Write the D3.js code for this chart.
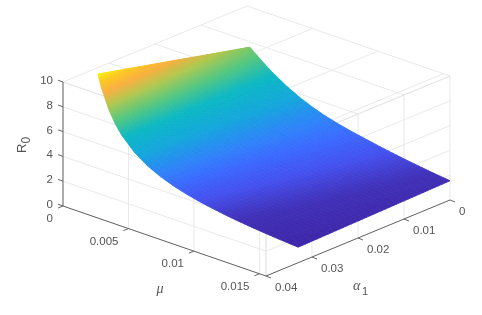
<!DOCTYPE html>
<html>
<head>
<meta charset="utf-8">
<script src="https://cdn.jsdelivr.net/npm/d3@7"></script>
<style>
  html, body { margin: 0; padding: 0; background: #fff; }
  svg { display: block; }
  text { font-family: "Liberation Sans", Arial, sans-serif; fill: #555; }
</style>
</head>
<body>
<div id="chart"></div>
<script>
const svgWidth = 482;
const svgHeight = 315;

// ticks
const muTicks = [0, 0.005, 0.01, 0.015];
const muTickLabels = ["0", "0.005", "0.01", "0.015"];
const alphaTicks = [0, 0.01, 0.02, 0.03, 0.04];
const alphaTickLabels = ["0", "0.01", "0.02", "0.03", "0.04"];
const zTicks = [0, 2, 4, 6, 8, 10];

// values
const muValues = [0.0002, 0.00035, 0.0005, 0.001, 0.0015, 0.002, 0.003, 0.004, 0.005, 0.006,
    0.007, 0.008, 0.009, 0.01, 0.011, 0.012, 0.013, 0.014, 0.0155];
const alphaValues = [0, 0.0165, 0.033];
const r0AtAlpha0 = [6.75, 6.63, 6.5, 6.1, 5.68, 5.3, 4.65, 4.1, 3.66, 3.3, 3.02, 2.78, 2.58, 2.38, 2.2, 2.03, 1.88, 1.74, 1.55];
const r0AtAlphaMid = [8.2, 7.87, 7.53, 6.64, 5.92, 5.36, 4.5, 3.86, 3.38, 3.01, 2.72, 2.48, 2.28, 2.1, 1.94, 1.8, 1.67, 1.56, 1.4];
const r0AtAlphaMax = [9.65, 9.1, 8.56, 7.17, 6.16, 5.41, 4.34, 3.62, 3.11, 2.72, 2.42, 2.18, 1.99, 1.82, 1.68, 1.56, 1.46, 1.37, 1.25];
const r0Columns = [r0AtAlpha0, r0AtAlphaMid, r0AtAlphaMax];

// colours at these R0 levels
const colorLevels = [1.25, 1.7, 2.2, 2.7, 3.2, 4.1, 5.2, 6.3, 7.3, 8.2, 9, 9.65];
const colorStops = ["#3e26a8", "#4030b8", "#4450ee", "#3b68ff", "#2f82fa", "#14a6dc", "#0cb8c4",
    "#58c87c", "#b0c850", "#f8b040", "#fcc824", "#f6f410"];

const muMax = 0.0155;
const muDomain = [0, muMax];
const alphaDomain = [0.04, 0];
const zDomain = [0, 10];

// oblique projection, each data axis moves the point along its own screen direction
const muX = d3.scaleLinear().domain(muDomain).range([0, 203]);
const muY = d3.scaleLinear().domain(muDomain).range([0, 70]);
const alphaX = d3.scaleLinear().domain(alphaDomain).range([0, 184]);
const alphaY = d3.scaleLinear().domain(alphaDomain).range([0, -76]);
const zY = d3.scaleLinear().domain(zDomain).range([0, -124]);

const originX = 63, originY = 206;

function project(mu, alpha, z) {
    return [
        originX + muX(mu) + alphaX(alpha),
        originY + muY(mu) + alphaY(alpha) + zY(z)
    ];
}

const colorScale = d3.scaleLinear()
    .domain(colorLevels)
    .range(colorStops)
    .interpolate(d3.interpolateRgb);

const svg = d3.select("#chart")
    .append("svg")
    .attr("width", svgWidth)
    .attr("height", svgHeight);

// the reference is a soft raster, so everything gets a very slight blur
svg.append("defs")
    .append("filter")
    .attr("id", "soft")
    .attr("x", 0).attr("y", 0).attr("width", 1).attr("height", 1)
    .append("feGaussianBlur")
    .attr("stdDeviation", 0.45);

const root = svg.append("g").attr("filter", "url(#soft)");

root.append("rect")
    .attr("width", svgWidth)
    .attr("height", svgHeight)
    .attr("fill", "#fff");

// Grid
const gridLines = [];
const zMax = zDomain[1];
const alpha0 = alphaDomain[0], alpha1 = alphaDomain[1];

muTicks.concat([muMax]).forEach(m => {
    gridLines.push([[m, alpha0, zMax], [m, alpha1, zMax]]);
    gridLines.push([[m, alpha0, 0], [m, alpha0, zMax]]);
});
alphaTicks.forEach(a => {
    gridLines.push([[0, a, zMax], [muMax, a, zMax]]);
    gridLines.push([[muMax, a, 0], [muMax, a, zMax]]);
});
zTicks.forEach(z => {
    gridLines.push([[0, alpha0, z], [muMax, alpha0, z]]);
    gridLines.push([[muMax, alpha0, z], [muMax, alpha1, z]]);
});

const line3d = d3.line().x(d => d[0]).y(d => d[1]);

root.append("g")
    .selectAll("path")
    .data(gridLines)
    .join("path")
    .attr("d", d => line3d(d.map(p => project(p[0], p[1], p[2]))))
    .attr("fill", "none")
    .attr("stroke", "#e3e3e3")
    .attr("stroke-width", 0.8);

// Surface, shaded across each cell like shading interp
const subMu = 10, subAlpha = 20;
const cells = [];
function r0At(i, j, u, v) {
    const top = r0Columns[j][i] + (r0Columns[j][i + 1] - r0Columns[j][i]) * u;
    const bottom = r0Columns[j + 1][i] + (r0Columns[j + 1][i + 1] - r0Columns[j + 1][i]) * u;
    return top + (bottom - top) * v;
}
function cellPoint(i, j, u, v) {
    const m = muValues[i] + (muValues[i + 1] - muValues[i]) * u;
    const a = alphaValues[j] + (alphaValues[j + 1] - alphaValues[j]) * v;
    return project(m, a, r0At(i, j, u, v));
}
for (let i = 0; i < muValues.length - 1; i++) {
    for (let j = 0; j < alphaValues.length - 1; j++) {
        for (let s = 0; s < subMu; s++) {
            for (let t = 0; t < subAlpha; t++) {
                const u0 = s / subMu, u1 = (s + 1) / subMu;
                const v0 = t / subAlpha, v1 = (t + 1) / subAlpha;
                cells.push({
                    points: [cellPoint(i, j, u0, v0), cellPoint(i, j, u1, v0),
                             cellPoint(i, j, u1, v1), cellPoint(i, j, u0, v1)],
                    value: r0At(i, j, (u0 + u1) / 2, (v0 + v1) / 2)
                });
            }
        }
    }
}

root.append("g")
    .selectAll("polygon")
    .data(cells)
    .join("polygon")
    .attr("points", d => d.points.map(p => p.join(",")).join(" "))
    .attr("fill", d => colorScale(d.value))
    .attr("stroke", d => colorScale(d.value))
    .attr("stroke-width", 0.8);

// Axes
const axisColor = "#666";
const axes = root.append("g");

function axisLine(a, b) {
    const p = project(a[0], a[1], a[2]), q = project(b[0], b[1], b[2]);
    axes.append("line")
        .attr("x1", p[0]).attr("y1", p[1])
        .attr("x2", q[0]).attr("y2", q[1])
        .attr("stroke", axisColor)
        .attr("stroke-width", 1);
}

axisLine([0, alpha0, 0], [0, alpha0, zMax]);
axisLine([0, alpha0, 0], [muMax, alpha0, 0]);
axisLine([muMax, alpha0, 0], [muMax, alpha1, 0]);

const tickFontSize = 11.5;

zTicks.forEach(z => {
    const p = project(0, alpha0, z);
    axes.append("line")
        .attr("x1", p[0]).attr("y1", p[1])
        .attr("x2", p[0] - 5).attr("y2", p[1] - 1.8)
        .attr("stroke", axisColor);
    axes.append("text")
        .attr("x", p[0] - 10)
        .attr("y", p[1] - 2)
        .attr("dy", "0.35em")
        .attr("text-anchor", "end")
        .attr("font-size", tickFontSize)
        .text(z);
});

muTicks.forEach((m, i) => {
    const p = project(m, alpha0, 0);
    axes.append("line")
        .attr("x1", p[0]).attr("y1", p[1])
        .attr("x2", p[0] - 5).attr("y2", p[1] + 2)
        .attr("stroke", axisColor);
    axes.append("text")
        .attr("x", p[0] - 10)
        .attr("y", p[1] + 12)
        .attr("dy", "0.35em")
        .attr("text-anchor", "end")
        .attr("font-size", tickFontSize)
        .text(muTickLabels[i]);
});

alphaTicks.forEach((a, i) => {
    const p = project(muMax, a, 0);
    axes.append("line")
        .attr("x1", p[0]).attr("y1", p[1])
        .attr("x2", p[0] + 5).attr("y2", p[1] + 2)
        .attr("stroke", axisColor);
    axes.append("text")
        .attr("x", p[0] + 9)
        .attr("y", p[1] + 11)
        .attr("dy", "0.35em")
        .attr("text-anchor", "start")
        .attr("font-size", tickFontSize)
        .text(alphaTickLabels[i]);
});

// Axis labels
root.append("text")
    .attr("x", 160)
    .attr("y", 288)
    .attr("dy", "0.35em")
    .attr("text-anchor", "middle")
    .attr("font-size", 14)
    .style("font-family", "Liberation Serif")
    .style("font-style", "italic")
    .text("μ");

root.append("text")
    .attr("x", 353)
    .attr("y", 285)
    .attr("dy", "0.35em")
    .attr("font-size", 14)
    .style("font-family", "Liberation Serif")
    .style("font-style", "italic")
    .text("α");
root.append("text")
    .attr("x", 362)
    .attr("y", 291)
    .attr("dy", "0.35em")
    .attr("font-size", 11)
    .text("1");

const r0Label = root.append("text")
    .attr("transform", "translate(26,153) rotate(-90)")
    .attr("font-size", 13);
r0Label.append("tspan").text("R");
r0Label.append("tspan").attr("dy", 4).attr("font-size", 12).text("0");
</script>
</body>
</html>
